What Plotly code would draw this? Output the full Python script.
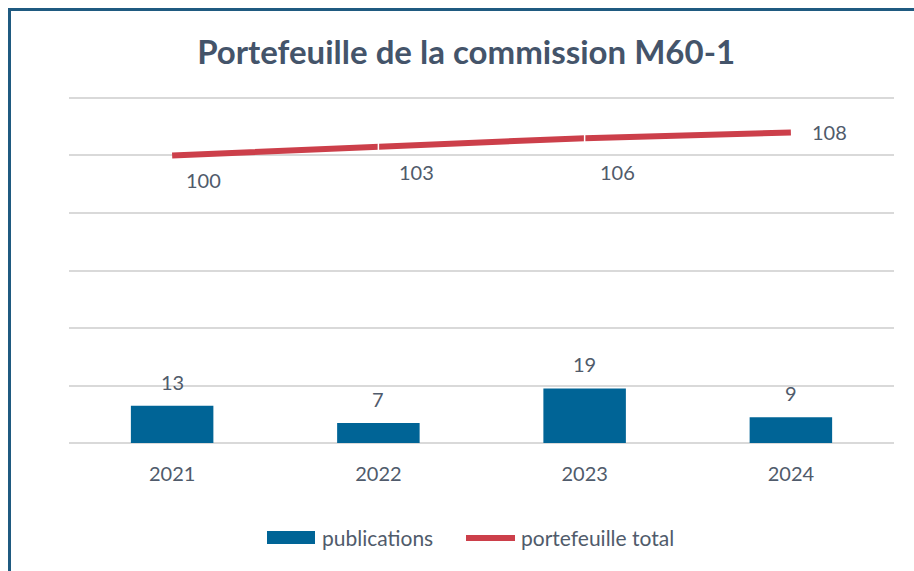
import plotly.graph_objects as go

years = ["2021", "2022", "2023", "2024"]
publications = [13, 7, 19, 9]
portefeuille = [100, 103, 106, 108]

# label offsets (px) for line labels, as placed in reference
line_label_dx = [31, 38, 33, 39]
line_label_dy = [-25, -25, -34, 0]

BAR = "#006496"
RED = "#CC3F4A"
TXT = "#505B6B"
FONT = "Lato"

fig = go.Figure()
fig.add_trace(go.Bar(x=years, y=publications, name="publications",
                     marker=dict(color=BAR, line=dict(width=0))))
fig.add_trace(go.Scatter(x=years, y=portefeuille, name="portefeuille total",
                         mode="lines+markers", line=dict(color=RED, width=6),
                         marker=dict(symbol="line-ns", size=9, opacity=[0, 1, 1, 0],
                                     line=dict(color="white", width=1.5))))

ann = []
for i, v in enumerate(publications):
    ann.append(dict(x=i, y=v, text=str(v), showarrow=False, yshift=24,
                    yanchor="middle", font=dict(size=20, color=TXT, family=FONT)))
for i, (v, dx, dy) in enumerate(zip(portefeuille, line_label_dx, line_label_dy)):
    ann.append(dict(x=i, y=v, text=str(v), showarrow=False, xshift=dx, yshift=dy,
                    yanchor="middle", xanchor="center",
                    font=dict(size=20, color=TXT, family=FONT)))

L, R, T, B = 69, 20, 95, 125
W, H = 914, 571
pw, ph = W - L - R, H - T - B
def px2x(p):
    return (p - L) / pw
def py2y(p):
    return 1 - (p - T) / ph

# custom legend (wide swatches like the reference)
ann.append(dict(xref="paper", yref="paper", x=px2x(320), y=py2y(537), text="publications",
                showarrow=False, xanchor="left", yanchor="middle",
                font=dict(size=21, color=TXT, family=FONT)))
ann.append(dict(xref="paper", yref="paper", x=px2x(519), y=py2y(537), text="portefeuille total",
                showarrow=False, xanchor="left", yanchor="middle",
                font=dict(size=21, color=TXT, family=FONT)))

shapes = [
    dict(type="rect", xref="paper", yref="paper",
         x0=px2x(9.5), x1=px2x(940), y0=py2y(620), y1=py2y(9.5),
         line=dict(color="#1F5A80", width=3), fillcolor="rgba(0,0,0,0)", layer="above"),
    dict(type="rect", xref="paper", yref="paper",
         x0=px2x(267), x1=px2x(315), y0=py2y(544), y1=py2y(531),
         line=dict(width=0), fillcolor=BAR),
    dict(type="line", xref="paper", yref="paper",
         x0=px2x(466), x1=px2x(515), y0=py2y(538), y1=py2y(538),
         line=dict(color=RED, width=6)),
]

fig.update_layout(
    width=W, height=H,
    margin=dict(l=L, r=R, t=T, b=B),
    paper_bgcolor="white", plot_bgcolor="white",
    title=dict(text="<b>Portefeuille de la commission M60-1</b>", x=0.51, xanchor="center",
               y=1 - 52 / H, yanchor="middle",
               font=dict(size=33, color="#44546A", family=FONT)),
    font=dict(family=FONT, size=20, color=TXT),
    bargap=0.6,
    xaxis=dict(type="category", range=[-0.5, 3.5], autorange=False,
               showgrid=False, showline=False, ticks="",
               tickfont=dict(size=20, color=TXT, family=FONT)),
    yaxis=dict(range=[-1, 121], autorange=False, tickvals=[0, 20, 40, 60, 80, 100, 120],
               showticklabels=False, showgrid=True,
               gridcolor="#D9D9D9", gridwidth=2, zeroline=True,
               zerolinecolor="#D9D9D9", zerolinewidth=2),
    showlegend=False,
    annotations=ann,
    shapes=shapes,
)
fig.update_xaxes(ticklabelstandoff=14)

fig.write_html("out.html", config={"displayModeBar": False},
               post_script="document.body.style.margin='0px';")
